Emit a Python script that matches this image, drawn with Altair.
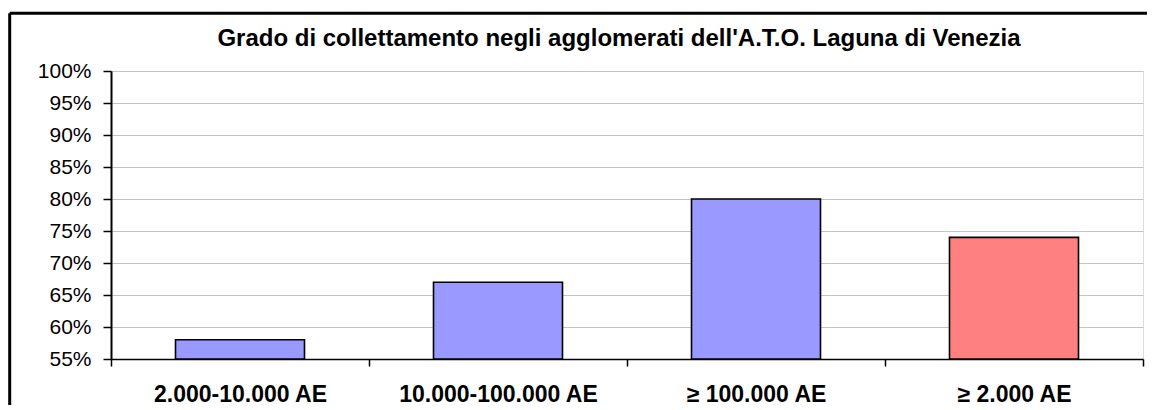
import altair as alt
import pandas as pd

# --- data ---
categorie = ["2.000-10.000 AE", "10.000-100.000 AE", "≥ 100.000 AE", "≥ 2.000 AE"]
valori = [0.58, 0.67, 0.80, 0.74]
gruppo = ["classe", "classe", "classe", "totale"]
tick_y = [0.55, 0.60, 0.65, 0.70, 0.75, 0.80, 0.85, 0.90, 0.95, 1.00]
titolo = "Grado di collettamento negli agglomerati dell'A.T.O. Laguna di Venezia"

df = pd.DataFrame({"categoria": categorie, "valore": valori, "gruppo": gruppo})

FONT = "Liberation Sans"
W, H = 1032, 288

x_enc = alt.X(
    "categoria:N",
    sort=categorie,
    scale=alt.Scale(paddingInner=0, paddingOuter=0),
    axis=alt.Axis(
        title=None,
        labelAngle=0,
        labelFont=FONT,
        labelFontSize=23,
        labelFontWeight="bold",
        labelColor="black",
        labelPadding=17,
        labelLimit=0,
        tickBand="extent",
        tickSize=7,
        tickColor="black",
        tickWidth=1.5,
        domainColor="black",
        domainWidth=1.5,
        grid=False,
    ),
)

y_enc = alt.Y(
    "valore:Q",
    scale=alt.Scale(domain=[tick_y[0], tick_y[-1]], nice=False, zero=False),
    axis=alt.Axis(
        title=None,
        values=tick_y,
        format=".0%",
        labelFont=FONT,
        labelFontSize=21,
        labelColor="black",
        labelPadding=12,
        tickSize=8,
        tickColor="black",
        tickWidth=1.5,
        domainColor="black",
        domainWidth=2,
        grid=True,
        gridColor="#c4c4c4",
        gridWidth=1,
    ),
)

bars = alt.Chart(df).mark_bar(
    stroke="black", strokeWidth=1.6, width=alt.RelativeBandSize(0.5)
).encode(
    x=x_enc,
    y=y_enc,
    y2=alt.datum(tick_y[0]),
    color=alt.Color(
        "gruppo:N",
        scale=alt.Scale(domain=["classe", "totale"], range=["#9999FF", "#FF8080"]),
        legend=None,
    ),
)

one = alt.Data(values=[{"t": titolo}])

title_mark = alt.Chart(one).mark_text(
    font=FONT, fontSize=24, fontWeight="bold", color="black",
    align="center", baseline="alphabetic",
).encode(x=alt.value(508), y=alt.value(-24.7), text="t:N")

frame_left = alt.Chart(one).mark_rule(color="black", strokeWidth=3).encode(
    x=alt.value(-101.3), y=alt.value(-57.7), y2=alt.value(400)
)
frame_top = alt.Chart(one).mark_rule(color="black", strokeWidth=3).encode(
    x=alt.value(-101.3), x2=alt.value(1100), y=alt.value(-57.7)
)

chart = (
    alt.layer(bars, title_mark, frame_left, frame_top)
    .properties(
        width=W,
        height=H,
        autosize=alt.AutoSizeParams(type="none"),
        padding={"left": 103, "top": 63, "right": 4, "bottom": 46},
    )
    .configure_view(stroke="black", strokeWidth=1.5)
    .configure(background="white")
)

chart.save("out.html", embed_options={"renderer": "svg", "actions": False})
